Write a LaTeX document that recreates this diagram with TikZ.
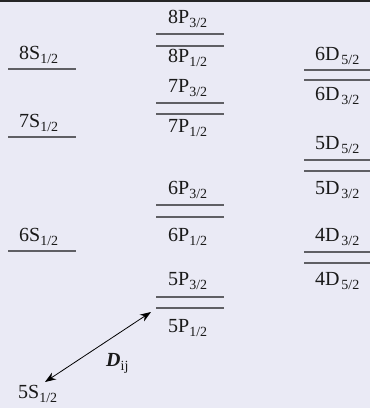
\documentclass[tikz,border=0pt]{standalone}
\usepackage{fontspec}
\setmainfont{Liberation Serif}
\usetikzlibrary{arrows.meta}
\definecolor{bgc}{RGB}{234,234,245}
\definecolor{levc}{RGB}{95,95,100}
\definecolor{txtc}{RGB}{25,25,25}
\newcommand\lv[2]{#1\raisebox{-4.8pt}{\fontsize{14}{14}\selectfont #2}}
\newcommand\lvd[2]{#1\kern1.8pt\raisebox{-4.8pt}{\fontsize{14}{14}\selectfont #2}}
\tikzset{
  lev/.style={draw=levc, line width=1.1pt},
  lbl/.style={anchor=base west, inner sep=0pt, text=txtc, font=\fontsize{20}{22}\selectfont},
}
\begin{document}
\begin{tikzpicture}[x=1pt,y=-1pt]
\fill[bgc] (0,0) rectangle (370,408);
\useasboundingbox (0,0) rectangle (370,408);
\fill[black!85] (0,0) rectangle (370,1.6);
% left column
\draw[lev] (8,69) -- (76,69);
\draw[lev] (8,137) -- (76,137);
\draw[lev] (8,251) -- (76,251);
\node[lbl] (s8) at (19,59) {\lv{8S}{1/2}};
\node[lbl] (s7) at (19,127) {\lv{7S}{1/2}};
\node[lbl] (s6) at (19,241) {\lv{6S}{1/2}};
\node[lbl] (s5) at (18,398) {\lv{5S}{1/2}};
% middle column
\draw[lev] (156,34) -- (224,34);
\draw[lev] (156,46) -- (224,46);
\draw[lev] (156,103) -- (224,103);
\draw[lev] (156,114) -- (224,114);
\draw[lev] (156,205) -- (224,205);
\draw[lev] (156,217) -- (224,217);
\draw[lev] (156,297) -- (224,297);
\draw[lev] (156,308) -- (224,308);
\node[lbl] (p83) at (168,23) {\lv{8P}{3/2}};
\node[lbl] (p81) at (168,62) {\lv{8P}{1/2}};
\node[lbl] (p73) at (168,92) {\lv{7P}{3/2}};
\node[lbl] (p71) at (168,132) {\lv{7P}{1/2}};
\node[lbl] (p63) at (168,194) {\lv{6P}{3/2}};
\node[lbl] (p61) at (168,241) {\lv{6P}{1/2}};
\node[lbl] (p53) at (168,285) {\lv{5P}{3/2}};
\node[lbl] (p51) at (168,332) {\lv{5P}{1/2}};
% right column
\draw[lev] (304,70) -- (370,70);
\draw[lev] (304,80) -- (370,80);
\draw[lev] (304,160) -- (370,160);
\draw[lev] (304,171) -- (370,171);
\draw[lev] (304,252) -- (370,252);
\draw[lev] (304,263) -- (370,263);
\node[lbl] (d65) at (315,60) {\lvd{6D}{5/2}};
\node[lbl] (d63) at (315,100) {\lvd{6D}{3/2}};
\node[lbl] (d55) at (315,149) {\lvd{5D}{5/2}};
\node[lbl] (d53) at (315,194) {\lvd{5D}{3/2}};
\node[lbl] (d43) at (315,241) {\lvd{4D}{3/2}};
\node[lbl] (d45) at (315,285) {\lvd{4D}{5/2}};
% transition arrow
\coordinate (a1) at (45,382);
\coordinate (a2) at (151,312);
\draw[black, line width=0.8pt, {Stealth[length=11pt,width=8pt]}-{Stealth[length=11pt,width=8pt]}] (a1) -- (a2);
\node[lbl] (dij) at (106,366) {\textbf{\textit{D}}\raisebox{-4pt}{\fontsize{14}{14}\selectfont ij}};
\end{tikzpicture}
\end{document}
